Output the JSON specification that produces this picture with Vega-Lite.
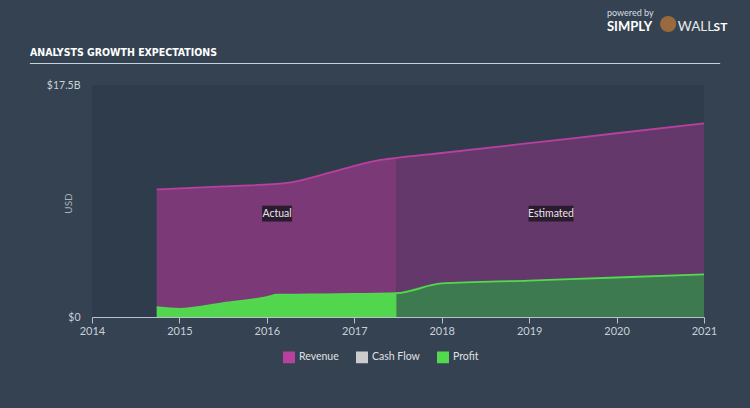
{
  "$schema": "https://vega.github.io/schema/vega-lite/v6.json",
  "width": 612,
  "height": 232,
  "autosize": "none",
  "padding": {"left": 92, "top": 85, "right": 46, "bottom": 91},
  "background": "#344252",
  "config": {
    "view": {"stroke": null, "fill": "#2f3c4b"},
    "font": "Lato"
  },
  "datasets": {
    "series": [
      {"yr": 2014.74, "series": "Revenue", "phase": "Actual", "value": 9.62},
      {"yr": 2015.5, "series": "Revenue", "phase": "Actual", "value": 9.85},
      {"yr": 2016.23, "series": "Revenue", "phase": "Actual", "value": 10.12},
      {"yr": 2016.75, "series": "Revenue", "phase": "Actual", "value": 10.95},
      {"yr": 2017.26, "series": "Revenue", "phase": "Actual", "value": 11.8},
      {"yr": 2017.485, "series": "Revenue", "phase": "Actual", "value": 12.0},
      {"yr": 2017.485, "series": "Revenue", "phase": "Estimated", "value": 12.0},
      {"yr": 2018.0, "series": "Revenue", "phase": "Estimated", "value": 12.37},
      {"yr": 2019.0, "series": "Revenue", "phase": "Estimated", "value": 13.11},
      {"yr": 2020.0, "series": "Revenue", "phase": "Estimated", "value": 13.86},
      {"yr": 2021.0, "series": "Revenue", "phase": "Estimated", "value": 14.6},
      {"yr": 2014.74, "series": "Profit", "phase": "Actual", "value": 0.74},
      {"yr": 2015.0, "series": "Profit", "phase": "Actual", "value": 0.62},
      {"yr": 2015.5, "series": "Profit", "phase": "Actual", "value": 1.05},
      {"yr": 2016.0, "series": "Profit", "phase": "Actual", "value": 1.5},
      {"yr": 2016.12, "series": "Profit", "phase": "Actual", "value": 1.68},
      {"yr": 2016.5, "series": "Profit", "phase": "Actual", "value": 1.7},
      {"yr": 2017.0, "series": "Profit", "phase": "Actual", "value": 1.74},
      {"yr": 2017.485, "series": "Profit", "phase": "Actual", "value": 1.8},
      {"yr": 2017.485, "series": "Profit", "phase": "Estimated", "value": 1.8},
      {"yr": 2018.0, "series": "Profit", "phase": "Estimated", "value": 2.53},
      {"yr": 2019.0, "series": "Profit", "phase": "Estimated", "value": 2.75},
      {"yr": 2020.0, "series": "Profit", "phase": "Estimated", "value": 2.98},
      {"yr": 2021.0, "series": "Profit", "phase": "Estimated", "value": 3.21}
    ],
    "notes": [
      {"label": "Actual", "yr": 2016.117, "lv": 7.8},
      {"label": "Estimated", "yr": 2019.25, "lv": 7.8}
    ]
  },
  "data": {"name": "series"},
  "layer": [
    {
      "transform": [{"filter": "datum.series == 'Revenue' && datum.phase == 'Actual'"}],
      "mark": {"type": "area", "fill": "#7c3977", "interpolate": "monotone"},
      "encoding": {
        "x": {"field": "yr", "type": "quantitative", "scale": {"domain": [2014, 2021], "nice": false, "zero": false, "padding": 0},
          "axis": {"values": [2014, 2015, 2016, 2017, 2018, 2019, 2020, 2021], "format": "d", "domainColor": "#b8c2cc", "tickColor": "#b8c2cc", "tickSize": 6, "labelColor": "#c8d0d8", "labelFontSize": 11, "labelPadding": 2, "grid": false, "title": null, "labelFlush": false}},
        "y": {"field": "value", "type": "quantitative", "scale": {"domain": [0, 17.5], "nice": false},
          "axis": {"values": [0, 17.5], "labelExpr": "datum.value == 0 ? '$0' : '$17.5B'", "domain": false, "ticks": false, "grid": false, "labelPadding": 12, "labelColor": "#c8d0d8", "labelFontSize": 10.5, "title": "USD", "titleColor": "#aab4be", "titleFontSize": 10, "titleFontWeight": "normal", "titleX": -19, "titleY": 118, "titleAngle": -90}}
      }
    },
    {
      "transform": [{"filter": "datum.series == 'Revenue' && datum.phase == 'Estimated'"}],
      "mark": {"type": "area", "fill": "#64386b", "interpolate": "monotone"},
      "encoding": {
        "x": {"field": "yr", "type": "quantitative", "scale": {"domain": [2014, 2021], "nice": false, "zero": false, "padding": 0}},
        "y": {"field": "value", "type": "quantitative", "scale": {"domain": [0, 17.5], "nice": false}}
      }
    },
    {
      "transform": [{"filter": "datum.series == 'Profit' && datum.phase == 'Actual'"}],
      "mark": {"type": "area", "fill": "#52d64e", "interpolate": "monotone"},
      "encoding": {
        "x": {"field": "yr", "type": "quantitative", "scale": {"domain": [2014, 2021], "nice": false, "zero": false, "padding": 0}},
        "y": {"field": "value", "type": "quantitative", "scale": {"domain": [0, 17.5], "nice": false}}
      }
    },
    {
      "transform": [{"filter": "datum.series == 'Profit' && datum.phase == 'Estimated'"}],
      "mark": {"type": "area", "fill": "#3e7a4f", "interpolate": "monotone"},
      "encoding": {
        "x": {"field": "yr", "type": "quantitative", "scale": {"domain": [2014, 2021], "nice": false, "zero": false, "padding": 0}},
        "y": {"field": "value", "type": "quantitative", "scale": {"domain": [0, 17.5], "nice": false}}
      }
    },
    {
      "mark": {"type": "line", "strokeWidth": 1.8, "interpolate": "monotone"},
      "encoding": {
        "x": {"field": "yr", "type": "quantitative", "scale": {"domain": [2014, 2021], "nice": false, "zero": false, "padding": 0}},
        "y": {"field": "value", "type": "quantitative", "scale": {"domain": [0, 17.5], "nice": false}},
        "color": {
          "field": "series", "type": "nominal",
          "scale": {"domain": ["Revenue", "Cash Flow", "Profit"], "range": ["#b8409f", "#cccccc", "#52d94f"]},
          "legend": {
            "orient": "none", "legendX": 191, "legendY": 266, "direction": "horizontal", "title": null,
            "symbolType": "square", "symbolSize": 110, "labelColor": "#e0e0e0", "labelFontSize": 10.5,
            "columnPadding": 14, "labelOffset": 4,
            "encode": {"symbols": {"update": {"fill": {"scale": "color", "field": "value"}, "stroke": {"value": "transparent"}}}}
          }
        }
      }
    },
    {
      "data": {"name": "notes"},
      "transform": [{"filter": "datum.label == 'Actual'"}],
      "mark": {"type": "bar", "width": 30, "color": "#2b1b2e"},
      "encoding": {
        "x": {"field": "yr", "type": "quantitative", "scale": {"domain": [2014, 2021], "nice": false, "zero": false, "padding": 0}},
        "y": {"datum": 8.4, "type": "quantitative", "scale": {"domain": [0, 17.5], "nice": false}},
        "y2": {"datum": 7.2}
      }
    },
    {
      "data": {"name": "notes"},
      "transform": [{"filter": "datum.label == 'Estimated'"}],
      "mark": {"type": "bar", "width": 45, "color": "#2b1b2e"},
      "encoding": {
        "x": {"field": "yr", "type": "quantitative", "scale": {"domain": [2014, 2021], "nice": false, "zero": false, "padding": 0}},
        "y": {"datum": 8.4, "type": "quantitative", "scale": {"domain": [0, 17.5], "nice": false}},
        "y2": {"datum": 7.2}
      }
    },
    {
      "data": {"name": "notes"},
      "mark": {"type": "text", "color": "#ece4ec", "fontSize": 10.5, "align": "center", "baseline": "middle"},
      "encoding": {
        "x": {"field": "yr", "type": "quantitative", "scale": {"domain": [2014, 2021], "nice": false, "zero": false, "padding": 0}},
        "y": {"field": "lv", "type": "quantitative", "scale": {"domain": [0, 17.5], "nice": false}},
        "text": {"field": "label"}
      }
    },
    {
      "data": {"values": [{}]},
      "mark": {"type": "rule", "color": "#c5d2de", "strokeWidth": 1.2},
      "encoding": {
        "x": {"datum": 2013.29, "type": "quantitative", "scale": {"domain": [2014, 2021], "nice": false, "zero": false, "padding": 0}},
        "x2": {"datum": 2021.185},
        "y": {"datum": 19.12, "type": "quantitative", "scale": {"domain": [0, 17.5], "nice": false}}
      }
    },
    {
      "data": {"values": [{}]},
      "mark": {"type": "text", "text": "ANALYSTS GROWTH EXPECTATIONS", "font": "'DejaVu Sans Condensed', 'Liberation Sans Narrow', 'Arial Narrow', sans-serif", "fontWeight": "bold", "fontSize": 10.5, "color": "#ffffff", "align": "left", "baseline": "middle"},
      "encoding": {
        "x": {"datum": 2013.29, "type": "quantitative", "scale": {"domain": [2014, 2021], "nice": false, "zero": false, "padding": 0}},
        "y": {"datum": 19.91, "type": "quantitative", "scale": {"domain": [0, 17.5], "nice": false}}
      }
    },
    {
      "data": {"values": [{}]},
      "mark": {"type": "text", "text": "powered by", "color": "#d8dde2", "fontSize": 9, "align": "left", "baseline": "middle"},
      "encoding": {
        "x": {"datum": 2019.89, "type": "quantitative", "scale": {"domain": [2014, 2021], "nice": false, "zero": false, "padding": 0}},
        "y": {"datum": 22.95, "type": "quantitative", "scale": {"domain": [0, 17.5], "nice": false}}
      }
    },
    {
      "data": {"values": [{}]},
      "mark": {"type": "text", "text": "SIMPLY", "color": "#ffffff", "fontSize": 13, "fontWeight": "bold", "align": "left", "baseline": "middle"},
      "encoding": {
        "x": {"datum": 2019.89, "type": "quantitative", "scale": {"domain": [2014, 2021], "nice": false, "zero": false, "padding": 0}},
        "y": {"datum": 21.85, "type": "quantitative", "scale": {"domain": [0, 17.5], "nice": false}}
      }
    },
    {
      "data": {"values": [{}]},
      "mark": {"type": "point", "filled": true, "shape": "circle", "size": 260, "color": "#9a6a3e", "opacity": 1},
      "encoding": {
        "x": {"datum": 2020.59, "type": "quantitative", "scale": {"domain": [2014, 2021], "nice": false, "zero": false, "padding": 0}},
        "y": {"datum": 22.1, "type": "quantitative", "scale": {"domain": [0, 17.5], "nice": false}}
      }
    },
    {
      "data": {"values": [{}]},
      "mark": {"type": "text", "text": "WALL", "color": "#e8e8e8", "fontSize": 13.5, "align": "left", "baseline": "middle"},
      "encoding": {
        "x": {"datum": 2020.7, "type": "quantitative", "scale": {"domain": [2014, 2021], "nice": false, "zero": false, "padding": 0}},
        "y": {"datum": 21.85, "type": "quantitative", "scale": {"domain": [0, 17.5], "nice": false}}
      }
    },
    {
      "data": {"values": [{}]},
      "mark": {"type": "text", "text": "ST", "color": "#ffffff", "fontSize": 12, "fontWeight": "bold", "align": "left", "baseline": "middle"},
      "encoding": {
        "x": {"datum": 2021.11, "type": "quantitative", "scale": {"domain": [2014, 2021], "nice": false, "zero": false, "padding": 0}},
        "y": {"datum": 21.85, "type": "quantitative", "scale": {"domain": [0, 17.5], "nice": false}}
      }
    }
  ]
}
